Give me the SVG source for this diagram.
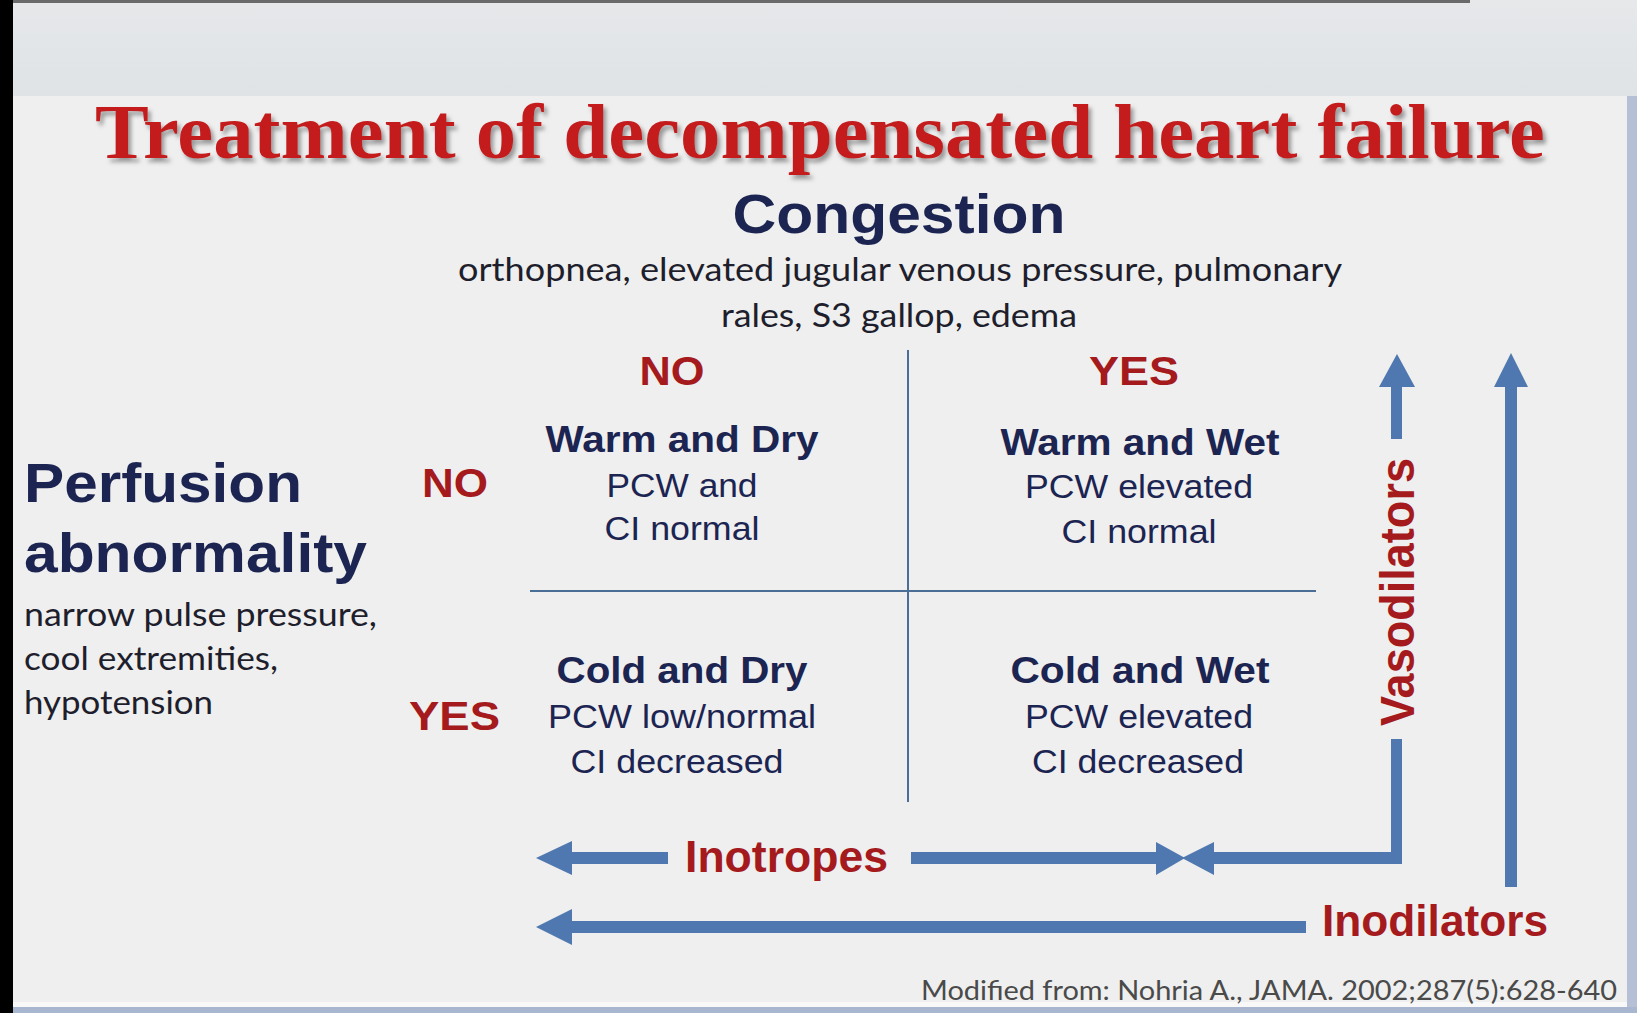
<svg xmlns="http://www.w3.org/2000/svg" width="1637" height="1013" viewBox="0 0 1637 1013">
<defs>
<filter id="sh" x="-5%" y="-20%" width="110%" height="150%">
<feDropShadow dx="3" dy="4" stdDeviation="2" flood-color="#7a7a7a" flood-opacity="0.75"/>
</filter>
<linearGradient id="band" x1="0" y1="0" x2="0" y2="1">
<stop offset="0" stop-color="#e6e8ea"/>
<stop offset="1" stop-color="#dfe3e6"/>
</linearGradient>
</defs>
<style>
.title{font-family:"Liberation Serif",serif;font-weight:bold;font-size:78px;fill:#c41e1e}
.hd{font-family:"Liberation Sans",Arial,sans-serif;font-weight:bold;fill:#1c2452}
.cal{font-family:Lato,"Open Sans",sans-serif;fill:#1e1e2c}
.red{font-family:"Liberation Sans",Arial,sans-serif;font-weight:bold;fill:#a51a1d}
.q{font-family:"Liberation Sans",Arial,sans-serif;fill:#1c2452;text-anchor:middle}
.qb{font-weight:bold;font-size:37px}
.qt{font-size:33px}
.arr{fill:#5078b0}
.grid{stroke:#4a6e95;stroke-width:2;fill:none}
</style>
<rect x="0" y="0" width="1637" height="1013" fill="#eeefee"/>
<rect x="0" y="0" width="1637" height="96" fill="url(#band)"/>
<rect x="13" y="0" width="1457" height="3" fill="#6a6a6a"/>
<rect x="1627" y="96" width="10" height="917" fill="#b5c0d6"/>
<rect x="13" y="1002" width="1614" height="5" fill="#f8f8f8"/>
<rect x="13" y="1007" width="1624" height="6" fill="#a9b6cf"/>
<rect x="0" y="0" width="13" height="1013" fill="#000"/>

<g id="title">
<text class="title" x="95" y="158" textLength="1450" lengthAdjust="spacingAndGlyphs" filter="url(#sh)">Treatment of decompensated heart failure</text>
</g>

<g id="congestion">
<text class="hd" x="899" y="233" font-size="55" text-anchor="middle" textLength="333" lengthAdjust="spacingAndGlyphs">Congestion</text>
<text class="cal" x="900" y="281" font-size="33" text-anchor="middle" textLength="884" lengthAdjust="spacingAndGlyphs">orthopnea, elevated jugular venous pressure, pulmonary</text>
<text class="cal" x="899" y="327" font-size="33" text-anchor="middle" textLength="356" lengthAdjust="spacingAndGlyphs">rales, S3 gallop, edema</text>
</g>

<g id="perfusion">
<text class="hd" x="24" y="502" font-size="56" textLength="278" lengthAdjust="spacingAndGlyphs">Perfusion</text>
<text class="hd" x="24" y="572" font-size="56" textLength="343" lengthAdjust="spacingAndGlyphs">abnormality</text>
<text class="cal" x="24" y="626" font-size="33" textLength="353" lengthAdjust="spacingAndGlyphs">narrow pulse pressure,</text>
<text class="cal" x="24" y="670" font-size="33" textLength="254" lengthAdjust="spacingAndGlyphs">cool extremities,</text>
<text class="cal" x="24" y="714" font-size="33" textLength="189" lengthAdjust="spacingAndGlyphs">hypotension</text>
</g>

<g id="col-no"><text class="red" x="672" y="385" font-size="41" text-anchor="middle" textLength="65" lengthAdjust="spacingAndGlyphs">NO</text></g>
<g id="col-yes"><text class="red" x="1134" y="385" font-size="41" text-anchor="middle" textLength="90" lengthAdjust="spacingAndGlyphs">YES</text></g>
<g id="row-no"><text class="red" x="422" y="497" font-size="41" textLength="66" lengthAdjust="spacingAndGlyphs">NO</text></g>
<g id="row-yes"><text class="red" x="409" y="730" font-size="41" textLength="91" lengthAdjust="spacingAndGlyphs">YES</text></g>

<g id="warm-dry">
<text class="q qb" x="682" y="452" textLength="273" lengthAdjust="spacingAndGlyphs">Warm and Dry</text>
<text class="q qt" x="682" y="497" textLength="151" lengthAdjust="spacingAndGlyphs">PCW and</text>
<text class="q qt" x="682" y="540" textLength="155" lengthAdjust="spacingAndGlyphs">CI normal</text>
</g>
<g id="warm-wet">
<text class="q qb" x="1140" y="455" textLength="279" lengthAdjust="spacingAndGlyphs">Warm and Wet</text>
<text class="q qt" x="1139" y="498" textLength="228" lengthAdjust="spacingAndGlyphs">PCW elevated</text>
<text class="q qt" x="1139" y="543" textLength="155" lengthAdjust="spacingAndGlyphs">CI normal</text>
</g>
<g id="cold-dry">
<text class="q qb" x="682" y="683" textLength="251" lengthAdjust="spacingAndGlyphs">Cold and Dry</text>
<text class="q qt" x="682" y="728" textLength="268" lengthAdjust="spacingAndGlyphs">PCW low/normal</text>
<text class="q qt" x="677" y="773" textLength="213" lengthAdjust="spacingAndGlyphs">CI decreased</text>
</g>
<g id="cold-wet">
<text class="q qb" x="1140" y="683" textLength="259" lengthAdjust="spacingAndGlyphs">Cold and Wet</text>
<text class="q qt" x="1139" y="728" textLength="228" lengthAdjust="spacingAndGlyphs">PCW elevated</text>
<text class="q qt" x="1138" y="773" textLength="212" lengthAdjust="spacingAndGlyphs">CI decreased</text>
</g>

<g id="connectors">
<line class="grid" x1="908" y1="350" x2="908" y2="802"/>
<line class="grid" x1="530" y1="591" x2="1316" y2="591"/>
<polygon class="arr" points="536,858 572,841 572,852 668,852 668,864 572,864 572,875"/>
<polygon class="arr" points="911,852 1156,852 1156,842 1185,858 1156,875 1156,864 911,864"/>
<polygon class="arr" points="1182,858 1214,842 1214,852 1391,852 1391,739 1402,739 1402,864 1214,864 1214,875"/>
<polygon class="arr" points="1397,354 1415,387 1402,387 1402,439 1391,439 1391,387 1379,387"/>
<polygon class="arr" points="1511,353 1528,387 1517,387 1517,887 1505,887 1505,387 1494,387"/>
<polygon class="arr" points="536,927 572,909 572,921 1306,921 1306,933 572,933 572,945"/>
</g>

<g id="label-vasodilators">
<text class="red" transform="translate(1414,592) rotate(-90)" x="0" y="0" font-size="48" text-anchor="middle" textLength="268" lengthAdjust="spacingAndGlyphs">Vasodilators</text>
</g>
<g id="label-inotropes">
<text class="red" x="685" y="872" font-size="44" textLength="203" lengthAdjust="spacingAndGlyphs">Inotropes</text>
</g>
<g id="label-inodilators">
<text class="red" x="1322" y="936" font-size="44" textLength="226" lengthAdjust="spacingAndGlyphs">Inodilators</text>
</g>
<g id="citation">
<text class="cal" x="921" y="1000" font-size="26" style="fill:#4a4a4a" textLength="696" lengthAdjust="spacingAndGlyphs">Modified from: Nohria A., JAMA. 2002;287(5):628-640</text>
</g>
</svg>
